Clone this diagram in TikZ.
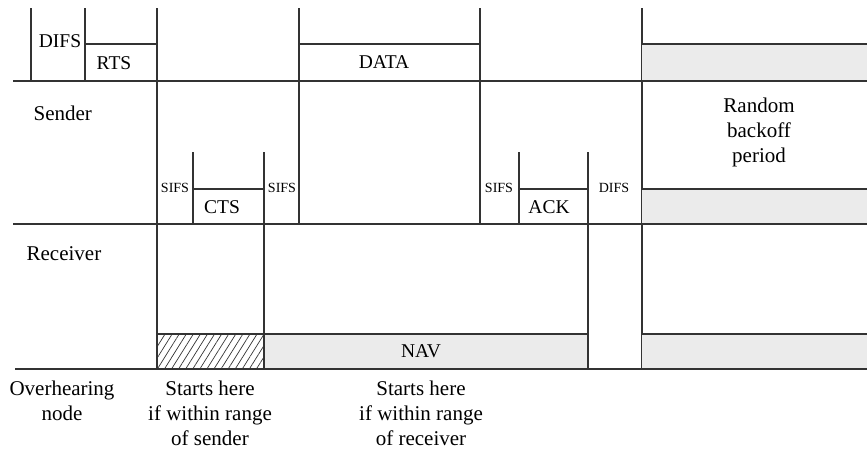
\documentclass[tikz,border=0pt]{standalone}
\usepackage{fontspec}
\setmainfont{Liberation Serif}
\usepackage{tikz}
\usetikzlibrary{patterns.meta}
\definecolor{linegray}{HTML}{333333}
\definecolor{busygray}{HTML}{EBEBEB}

\begin{document}
\begin{tikzpicture}[x=1pt,y=-1pt,line width=1.3pt,draw=linegray,
	lbl/.style={font=\fontsize{19.5}{25}\selectfont,inner sep=0pt,align=center},
	txt/.style={font=\fontsize{21}{25}\selectfont,inner sep=0pt,align=center},
	sml/.style={font=\fontsize{14}{16}\selectfont,inner sep=0pt},
	busy/.style={fill=busygray,draw=none},
	hatch/.style={pattern={Lines[angle=58,distance=6pt,line width=0.7pt]},pattern color=linegray}]
\useasboundingbox (0,0) rectangle (867,451);

% sender
\draw[linegray] (13,81) -- (867,81);
\draw[linegray] (31,8) -- (31,81);
\draw[linegray] (85,81) -- (85,8);
\draw[linegray] (85,44) -- (157,44);
\draw[linegray] (157,8) -- (157,369);
\draw[linegray] (299,8) -- (299,224);
\draw[linegray] (299,44) -- (480,44);
\draw[linegray] (480,8) -- (480,224);
\draw[linegray] (642,8) -- (642,369);
\fill[busy] (642,44) rectangle (867,81);
\draw[linegray] (642,44) -- (867,44) (642,81) -- (867,81);

% receiver
\draw[linegray] (13,224) -- (867,224);
\draw[linegray] (193,152) -- (193,224);
\draw[linegray] (193,189) -- (264,189);
\draw[linegray] (264,152) -- (264,369);
\draw[linegray] (519,152) -- (519,224);
\draw[linegray] (519,189) -- (588,189);
\draw[linegray] (588,152) -- (588,369);
\fill[busy] (642,189) rectangle (867,224);
\draw[linegray] (642,189) -- (867,189) (642,224) -- (867,224);

% overhearing node
\fill[hatch] (157,334) rectangle (264,369);
\fill[busy] (264,334) rectangle (588,369);
\fill[busy] (642,334) rectangle (867,369);
\draw[linegray] (157,334) -- (588,334) (642,334) -- (867,334);
\draw[linegray] (157,334) -- (157,369) (264,334) -- (264,369) (588,334) -- (588,369);
\draw[linegray] (15,369) -- (867,369);

% labels
\node[lbl] (difs1) at (60,41.5) {DIFS};
\node[lbl] (rts) at (114,63.5) {RTS};
\node[lbl] (data) at (384,62.5) {DATA};
\node[txt,anchor=west] (snd) at (33,113) {Sender};
\node[txt,anchor=west] (rcv) at (26,253.5) {Receiver};
\node[txt] (backoff) at (759,132) {Random\\backoff\\period};
\node[sml] (sifs1) at (175,188) {SIFS};
\node[lbl] (cts) at (222,207) {CTS};
\node[sml] (sifs2) at (282,188) {SIFS};
\node[sml] (sifs3) at (499,188) {SIFS};
\node[lbl] (ack) at (549,207) {ACK};
\node[sml] (difs2) at (614,188) {DIFS};
\node[lbl] (nav) at (421,351.5) {NAV};
\node[txt] (ovh) at (62,400.5) {Overhearing\\node};
\node[txt] (start1) at (210,413) {Starts here\\if within range\\of sender};
\node[txt] (start2) at (421,413) {Starts here\\if within range\\of receiver};
\end{tikzpicture}
\end{document}
